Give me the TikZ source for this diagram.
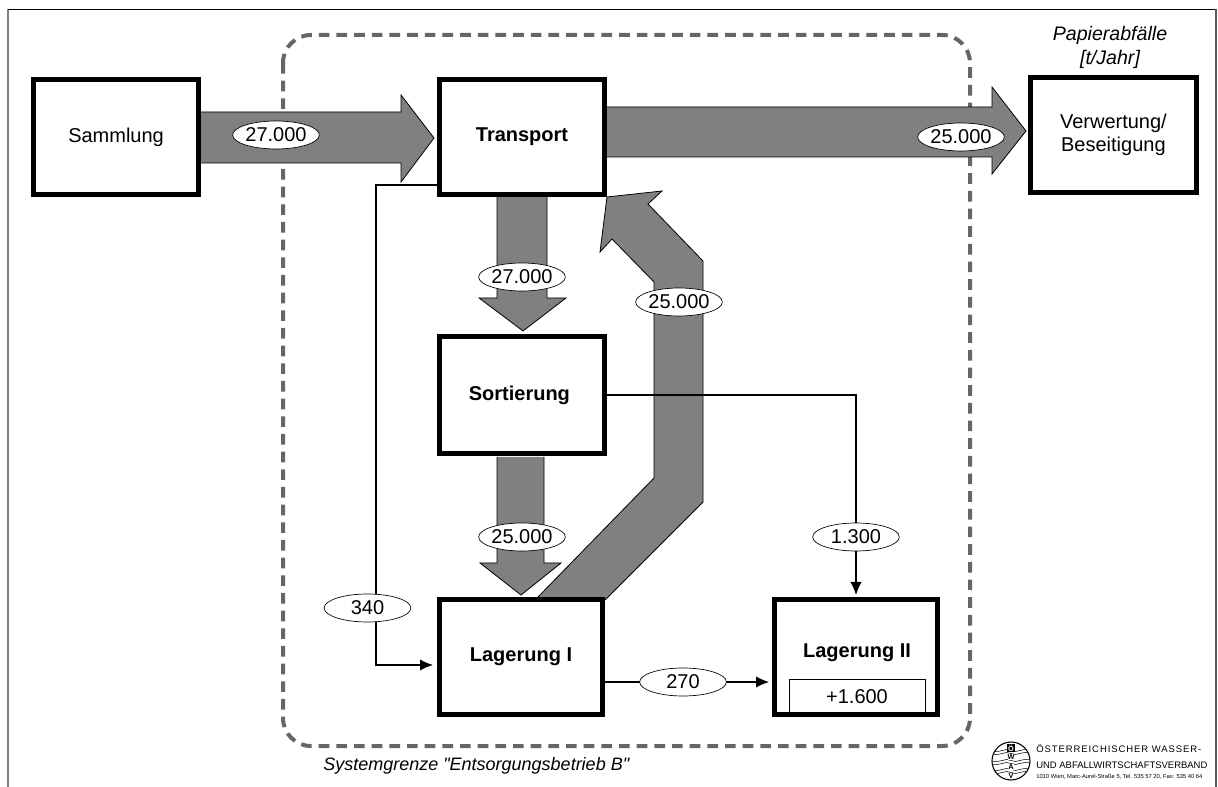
\documentclass[tikz,border=0pt]{standalone}
\usepackage{fontspec}
\setmainfont{Liberation Sans}
\usepackage{xcolor}
\usetikzlibrary{arrows.meta,shapes.geometric}
\definecolor{flowgray}{gray}{0.5}
\definecolor{limitgray}{gray}{0.4}
\newcommand{\plainquote}{\XeTeXglyph\XeTeXcharglyph"22 }
\begin{document}
\begin{tikzpicture}[
    x=0.75pt, y=-0.75pt,
    station/.style={draw, line width=3.6pt, align=center, font=\fontsize{15}{17}\selectfont,
                    minimum width=124pt, minimum height=86.4pt, inner sep=0pt, anchor=north west, fill=white},
    boldstation/.style={station, font=\fontsize{15}{17}\selectfont\bfseries},
    flow/.style={draw=black, fill=flowgray, line width=0.6pt, line join=miter},
    amount/.style={draw, ellipse, fill=white, line width=0.5pt, minimum width=65pt, minimum height=21pt,
                   inner sep=0pt, font=\fontsize{15}{15}\selectfont},
    thinflow/.style={-{Latex[length=9.75pt,width=8.5pt]}, line width=0.9pt},
    note/.style={font=\itshape\fontsize{14.7}{16}\selectfont, align=center}
  ]
    \useasboundingbox (0,0) rectangle (1218,787);

    % frame
    \draw[flowgray, line width=1pt] (8,787) -- (8,9);
    \draw[line width=0.7pt] (8,9) -- (1216,9);
    \draw[flowgray!70!black, line width=1pt] (1216,9) -- (1216,787);

    % system limit
    \draw[limitgray, line width=3pt, dash pattern=on 8pt off 5.25pt, rounded corners=21pt]
      (283,35) rectangle (970,746);

    % wide flows
    \draw[flow] (201,112) -- (401,112) -- (401,95) -- (434,138) -- (401,182) -- (401,163) -- (201,163);
    \draw[flow] (607,107) -- (992,107) -- (992,87) -- (1026,131) -- (992,174) -- (992,157) -- (607,157);
    \draw[flow] (497,197) -- (497,298) -- (479,298) -- (523,331) -- (566,298) -- (547,298) -- (547,197);
    \draw[flow] (497,457) -- (497,563) -- (480,563) -- (521,595) -- (561,563) -- (544,563) -- (544,457);
    \draw[flow] (537,598) -- (654,478) -- (654,282) -- (612,239) -- (600,252) -- (607,197)
      -- (662,191) -- (648,204) -- (703,261) -- (703,502) -- (605,600);

    % stations
    \node[station] (sammlung) at (31,77) {Sammlung};
    \node[boldstation, minimum width=123.9pt] (transport) at (437,77) {Transport};
    \node[station, minimum width=124.5pt] (verwertung) at (1028,75) {Verwertung/\\Beseitigung};
    \node[boldstation, minimum height=88pt] (sortierung) at (437,334) {Sortierung\hspace*{4pt}};
    \node[boldstation, minimum width=122.4pt] (lagerA) at (437,597) {Lagerung I};
    \node[station, minimum width=122.4pt] (lagerB) at (772,597) {};
    \node[font=\fontsize{15}{17}\selectfont\bfseries] (lagerBtext) at (857,653) {Lagerung II};

    % stock box
    \draw[line width=0.5pt] (789,712) -- (789,679) -- (925,679) -- (925,712);
    \node[font=\fontsize{15}{15}\selectfont] (bestand) at (857,697) {+1.600};

    % thin flows
    \coordinate (tA) at (376,185);
    \coordinate (tB) at (376,665);
    \coordinate (tC) at (683,682);
    \draw[thinflow, shorten >=3pt] (transport.west |- tA) -- (tA) -- (tB) -- (lagerA.west |- tB);
    \draw[thinflow, shorten >=1.5pt] (sortierung.east) -- (sortierung.east -| lagerB.north) -- (lagerB.north);
    \draw[thinflow, shorten >=2.25pt] (lagerA.east |- tC) -- (lagerB.west |- tC);

    % amounts
    \node[amount] (mA) at (276,135) {27.000};
    \node[amount] (mB) at (961,137) {25.000};
    \node[amount] (mC) at (522,277) {27.000};
    \node[amount] (mD) at (679,302) {25.000};
    \node[amount] (mE) at (522,537) {25.000};
    \node[amount] (mF) at (856,537) {1.300};
    \node[amount] (mG) at (367.5,608) {340};
    \node[amount] (mH) at (tC) {270};

    % notes
    \node[note] (abfall) at (1110,35) {Papierabfälle};
    \node[note] (einheit) at (1110,59) {[t/Jahr]};
    \node[note, font=\itshape\fontsize{13.5}{16}\selectfont, anchor=west, inner sep=0pt] (grenze) at (323,766) {Systemgrenze \plainquote Entsorgungsbetrieb B\plainquote};

    % logo
    \node[draw, circle, line width=0.8pt, minimum size=28.5pt, inner sep=0pt] (logo) at (1011,761) {};
    \begin{scope}
      \clip (logo.center) circle (14pt);
      \foreach \yy in {752,762,771} {
        \draw[line width=0.4pt] (990,\yy-1.5) .. controls (1000,\yy+2) and (1005,\yy-5) .. (1011,\yy-1.5)
          .. controls (1017,\yy+2) and (1022,\yy-5) .. (1032,\yy-1.5);
        \draw[line width=0.4pt] (990,\yy+1.5) .. controls (1000,\yy+5) and (1005,\yy-2) .. (1011,\yy+1.5)
          .. controls (1017,\yy+5) and (1022,\yy-2) .. (1032,\yy+1.5);
      }
    \end{scope}
    \node[font=\fontsize{5.5}{6}\selectfont\bfseries, inner sep=0.6pt, fill=black, text=white] (logoOe) at (1011,748) {Ö};
    \foreach \yy/\ltr in {757/W,767/A,776/V}
      \node[font=\fontsize{5.5}{6}\selectfont\bfseries, inner sep=0pt, fill=white] at (1011,\yy) {\ltr};
    \node[anchor=west, inner sep=0pt, font=\fontsize{7.1}{8}\selectfont\addfontfeatures{LetterSpace=10}] (verband) at (1036,749) {ÖSTERREICHISCHER WASSER-};
    \node[anchor=west, inner sep=0pt, font=\fontsize{7.1}{8}\selectfont] (verbandB) at (1036,765) {UND ABFALLWIRTSCHAFTSVERBAND};
    \node[anchor=west, inner sep=0pt, font=\fontsize{4.35}{5}\selectfont] (adresse) at (1036,777) {1010 Wien, Marc-Aurel-Straße 5, Tel. 535 57 20, Fax: 535 40 64};
\end{tikzpicture}
\end{document}
